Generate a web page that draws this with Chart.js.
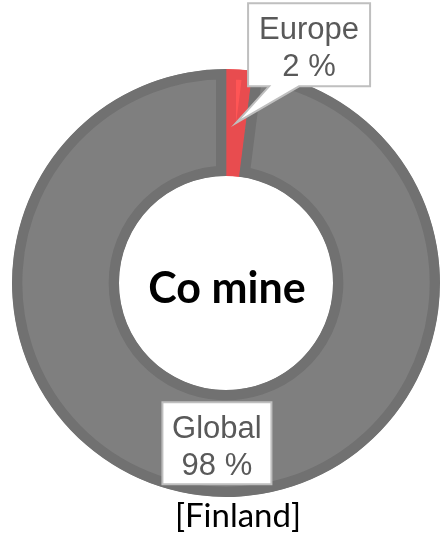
<!DOCTYPE html>
<html>
<head>
<meta charset="utf-8">
<script src="https://cdn.jsdelivr.net/npm/chart.js@4/dist/chart.umd.min.js"></script>
<style>
    html, body { margin: 0; padding: 0; background: #fff; }
    #wrap { width: 441px; height: 540px; }
</style>
</head>
<body>
<div id="wrap"><canvas id="co-mine-chart"></canvas></div>
<script>
const categories = ['Europe', 'Global'];
const shares = [2, 98];
const centerTitle = 'Co mine';
const countryNote = '[Finland]';

// callout boxes, placed relative to each slice's mid point
const callouts = [
    { dx: 73, dy: -78, w: 122, h: 83, pointer: [21, 51] },
    { dx: 1, dy: 0, w: 109, h: 82, pointer: null }
];

const calloutPlugin = {
    id: 'callouts',
    afterDatasetsDraw(chart) {
        const ctx = chart.ctx;
        const arcs = chart.getDatasetMeta(0).data;
        const values = chart.data.datasets[0].data;

        arcs.forEach((arc, i) => {
            const c = callouts[i];
            const p = arc.getCenterPoint();
            const left = p.x + c.dx - c.w / 2;
            const top = p.y + c.dy - c.h / 2;
            const right = left + c.w;
            const bottom = top + c.h;

            ctx.save();
            ctx.beginPath();
            ctx.moveTo(left, top);
            ctx.lineTo(right, top);
            ctx.lineTo(right, bottom);
            if (c.pointer) {
                ctx.lineTo(left + c.pointer[1], bottom);
                ctx.lineTo(p.x, p.y);
                ctx.lineTo(left + c.pointer[0], bottom);
            }
            ctx.lineTo(left, bottom);
            ctx.closePath();
            ctx.fillStyle = '#ffffff';
            ctx.fill();
            ctx.strokeStyle = '#bfbfbf';
            ctx.lineWidth = 2;
            ctx.stroke();

            ctx.fillStyle = '#595959';
            ctx.font = '31px "Liberation Sans", Arial, sans-serif';
            ctx.textAlign = 'center';
            ctx.textBaseline = 'alphabetic';
            const cx = left + c.w / 2;
            ctx.fillText(chart.data.labels[i], cx, top + 36);
            ctx.fillText(values[i] + ' %', cx, top + 73);
            ctx.restore();
        });

        const first = arcs[0];
        ctx.save();
        ctx.fillStyle = '#000000';
        ctx.textAlign = 'center';
        ctx.textBaseline = 'alphabetic';
        ctx.font = 'bold 43px Lato, "Noto Sans", sans-serif';
        ctx.fillText(centerTitle, first.x + 1, first.y + 20);
        ctx.font = '33px Lato, "Noto Sans", sans-serif';
        ctx.fillText(countryNote, first.x + 12, 527);
        ctx.restore();
    }
};

new Chart('co-mine-chart', {
    type: 'doughnut',
    data: {
        labels: categories,
        datasets: [{
            data: shares,
            backgroundColor: ['#ff5555', '#7f7f7f'],
            borderColor: ['#e84c4f', '#717171'],
            borderWidth: 10,
            borderAlign: 'inner'
        }]
    },
    options: {
        responsive: true,
        maintainAspectRatio: false,
        animation: false,
        radius: 214,
        cutout: '50%',
        layout: {
            padding: { left: 11, right: 0, top: 68, bottom: 42 }
        },
        plugins: {
            legend: { display: false },
            tooltip: { enabled: false }
        }
    },
    plugins: [calloutPlugin]
});
</script>
</body>
</html>
